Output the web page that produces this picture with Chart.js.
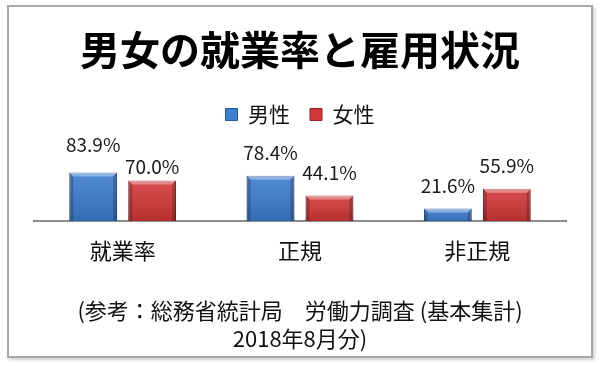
<!DOCTYPE html>
<html lang="ja">
<head>
<meta charset="utf-8">
<title>男女の就業率と雇用状況</title>
<script src="https://cdn.jsdelivr.net/npm/chart.js@4.4.1/dist/chart.umd.min.js"></script>
<style>
html, body { margin: 0; padding: 0; background: #fff; }
#wrap  { position: relative; width: 600px; height: 366px; }
#frame { position: absolute; left: 7px; top: 5px; width: 586px; height: 353px; box-sizing: border-box;
         border: 2px solid #a8a8a8; box-shadow: 2px 2px 3px rgba(0,0,0,.18); }
#c     { position: absolute; left: 0; top: 0; }
</style>
</head>
<body>
<div id="wrap">
  <div id="frame"></div>
  <canvas id="c" width="600" height="366"></canvas>
</div>
<script>
// ── Dados ──
const categories   = ['就業率', '正規', '非正規'];
const seriesNames  = ['男性', '女性'];
const maleValues   = [83.9, 78.4, 21.6];
const femaleValues = [70.0, 44.1, 55.9];
const titleText    = '男女の就業率と雇用状況';
const noteLines    = ['(参考：総務省統計局　労働力調査 (基本集計)', '2018年8月分)'];

// ── Estilo ──
const FONT = "'Noto Sans CJK JP', 'Noto Sans', sans-serif";
const BLUE = '#3c7dcf', BLUE_EDGE = '#24569a';
const RED  = '#d23737', RED_EDGE  = '#952020';
// deslocamento (px) dos rótulos acima de cada barra, por série
const labelLift = [[28, 23, 23], [14, 23, 23]];

// ── Chanfro das barras (efeito 3D do Excel) ──
const bevelPlugin = {
  id: 'bevel',
  afterDatasetsDraw(chart) {
    const ctx = chart.ctx;
    chart.data.datasets.forEach((ds, di) => {
      chart.getDatasetMeta(di).data.forEach(bar => {
        const p = bar.getProps(['x', 'y', 'base', 'width'], true);
        const l = p.x - p.width / 2, r = p.x + p.width / 2, t = p.y, b = p.base;
        const e = Math.min(4, (b - t) / 2);
        ctx.save();
        const g = ctx.createLinearGradient(0, t, 0, b);
        g.addColorStop(0, 'rgba(255,255,255,0.10)');
        g.addColorStop(1, 'rgba(0,0,0,0.14)');
        ctx.fillStyle = g;
        ctx.fillRect(l, t, r - l, b - t);
        ctx.fillStyle = 'rgba(255,255,255,0.35)';
        ctx.beginPath(); ctx.moveTo(l, t); ctx.lineTo(r, t); ctx.lineTo(r - e, t + e); ctx.lineTo(l + e, t + e); ctx.closePath(); ctx.fill();
        ctx.fillStyle = 'rgba(0,0,0,0.20)';
        ctx.beginPath(); ctx.moveTo(l, t); ctx.lineTo(l + e, t + e); ctx.lineTo(l + e, b); ctx.lineTo(l, b); ctx.closePath(); ctx.fill();
        ctx.beginPath(); ctx.moveTo(r, t); ctx.lineTo(r - e, t + e); ctx.lineTo(r - e, b); ctx.lineTo(r, b); ctx.closePath(); ctx.fill();
        ctx.restore();
      });
    });
  }
};

// ── Rótulos de valor acima das barras ──
const valueLabelPlugin = {
  id: 'valueLabels',
  afterDatasetsDraw(chart) {
    const ctx = chart.ctx;
    ctx.save();
    ctx.font = '19px ' + FONT;
    ctx.fillStyle = '#1a1a1a';
    ctx.textAlign = 'center';
    ctx.textBaseline = 'middle';
    chart.data.datasets.forEach((ds, di) => {
      chart.getDatasetMeta(di).data.forEach((bar, i) => {
        ctx.fillText(ds.data[i].toFixed(1) + '%', bar.x, bar.y - labelLift[di][i]);
      });
    });
    ctx.restore();
  }
};

new Chart(document.getElementById('c').getContext('2d'), {
  type: 'bar',
  data: {
    labels: categories,
    datasets: [
      { label: seriesNames[0], data: maleValues,   backgroundColor: BLUE, borderColor: BLUE_EDGE, borderWidth: 1,
        categoryPercentage: 0.665, barPercentage: 0.81 },
      { label: seriesNames[1], data: femaleValues, backgroundColor: RED,  borderColor: RED_EDGE,  borderWidth: 1,
        categoryPercentage: 0.665, barPercentage: 0.81 }
    ]
  },
  plugins: [bevelPlugin, valueLabelPlugin],
  options: {
    responsive: false, animation: false, devicePixelRatio: 1,
    layout: { padding: { left: 34, right: 34, top: 0, bottom: 0 } },
    plugins: {
      title: { display: true, text: titleText, color: '#000',
               font: { family: FONT, size: 40, weight: 'bold' }, padding: { top: 26, bottom: 10 } },
      subtitle: { display: true, position: 'bottom', text: noteLines, color: '#111',
                  font: { family: FONT, size: 22, lineHeight: 1.24 }, padding: { top: 18, bottom: 14 } },
      legend: { display: true, position: 'top',
                labels: { color: '#111', font: { family: FONT, size: 21 }, boxWidth: 12, boxHeight: 12, padding: 20 } },
      tooltip: { enabled: false }
    },
    scales: {
      x: {
        grid: { display: false, drawTicks: false },
        border: { display: true, color: '#8c8c8c', width: 2 },
        ticks: { color: '#111', font: { family: FONT, size: 22 }, padding: 16 }
      },
      y: { display: false, min: 0, max: 149 }
    }
  }
});
</script>
</body>
</html>
